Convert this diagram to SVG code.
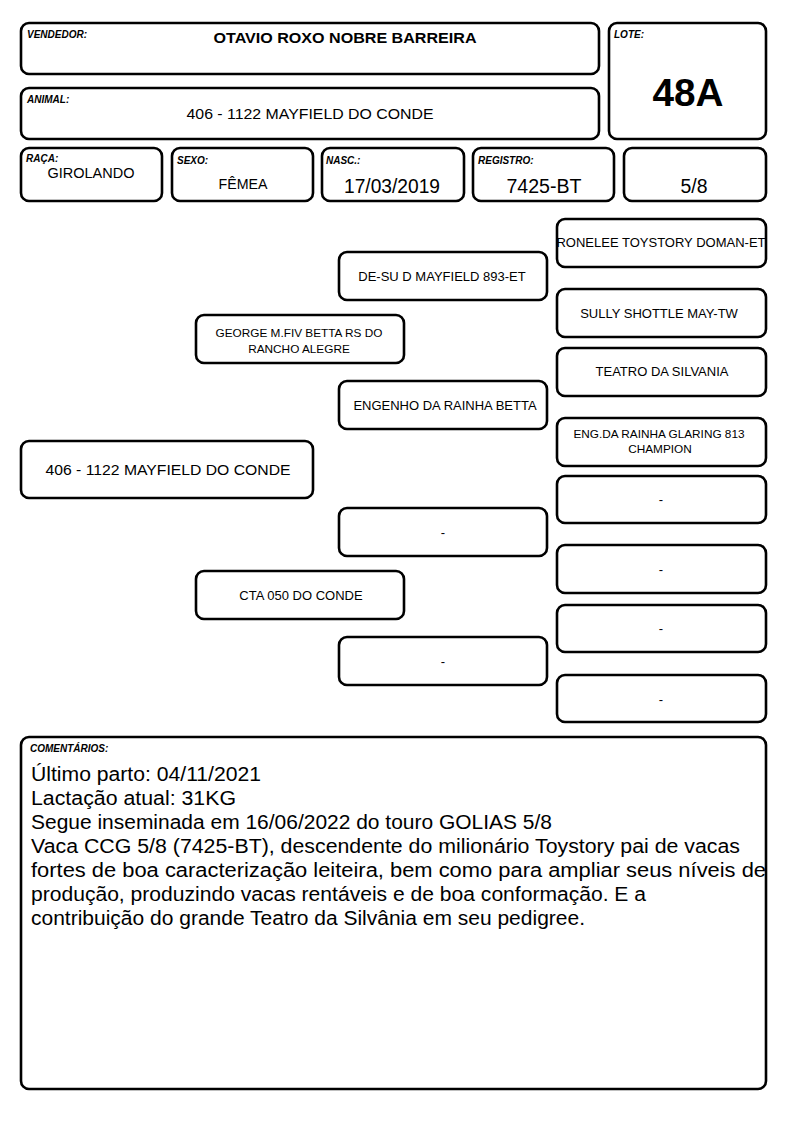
<svg xmlns="http://www.w3.org/2000/svg" width="794" height="1123" viewBox="0 0 794 1123">
<style>
.box{fill:#fff;stroke:#000;stroke-width:2.6}
.lbl{font-family:"Liberation Sans",Arial,sans-serif;font-size:10px;font-weight:bold;font-style:italic;fill:#000}
.t{font-family:"Liberation Sans",Arial,sans-serif;fill:#000;text-anchor:middle}
.p{font-family:"Liberation Sans",Arial,sans-serif;font-size:13px;fill:#000;text-anchor:middle}
.ps{font-family:"Liberation Sans",Arial,sans-serif;font-size:11.8px;fill:#000;text-anchor:middle}
.c{font-family:"Liberation Sans",Arial,sans-serif;font-size:20px;fill:#000}
</style>
<rect width="794" height="1123" fill="#fff"/>
<g id="vendedor">
<rect class="box" x="21" y="23" width="578" height="51" rx="8"/>
<text class="lbl" x="27" y="38">VENDEDOR:</text>
<text class="t" x="345" y="43" font-size="15" font-weight="bold" textLength="263" lengthAdjust="spacingAndGlyphs">OTAVIO ROXO NOBRE BARREIRA</text>
</g>
<g id="animal">
<rect class="box" x="21" y="88" width="578" height="51" rx="8"/>
<text class="lbl" x="27" y="103">ANIMAL:</text>
<text class="t" x="310" y="119" font-size="15.5" textLength="247" lengthAdjust="spacingAndGlyphs">406 - 1122 MAYFIELD DO CONDE</text>
</g>
<g id="lote">
<rect class="box" x="609" y="23" width="157" height="116" rx="8"/>
<text class="lbl" x="614" y="38">LOTE:</text>
<text class="t" x="688" y="106" font-size="39" font-weight="bold" textLength="71" lengthAdjust="spacingAndGlyphs">48A</text>
</g>
<g id="raca">
<rect class="box" x="21" y="148" width="141" height="53" rx="8"/>
<text class="lbl" x="26" y="162">RAÇA:</text>
<text class="t" x="91" y="178" font-size="15" textLength="87" lengthAdjust="spacingAndGlyphs">GIROLANDO</text>
</g>
<g id="sexo">
<rect class="box" x="172" y="148" width="141" height="53" rx="8"/>
<text class="lbl" x="177" y="164">SEXO:</text>
<text class="t" x="243" y="189" font-size="15" textLength="49" lengthAdjust="spacingAndGlyphs">FÊMEA</text>
</g>
<g id="nasc">
<rect class="box" x="322" y="148" width="142" height="53" rx="8"/>
<text class="lbl" x="326" y="164">NASC.:</text>
<text class="t" x="392" y="193" font-size="19.5" textLength="96" lengthAdjust="spacingAndGlyphs">17/03/2019</text>
</g>
<g id="registro">
<rect class="box" x="473" y="148" width="141" height="53" rx="8"/>
<text class="lbl" x="478" y="164">REGISTRO:</text>
<text class="t" x="544" y="193" font-size="19.5" textLength="75" lengthAdjust="spacingAndGlyphs">7425-BT</text>
</g>
<g id="grau">
<rect class="box" x="624" y="148" width="142" height="53" rx="8"/>
<text class="t" x="694" y="193" font-size="19.5" textLength="27" lengthAdjust="spacingAndGlyphs">5/8</text>
</g>
<g id="connectors"></g>
<g id="p-animal">
<rect class="box" x="21" y="441" width="292" height="57" rx="8"/>
<text class="t" x="168" y="475" font-size="15.5" textLength="245" lengthAdjust="spacingAndGlyphs">406 - 1122 MAYFIELD DO CONDE</text>
</g>
<g id="p-pai">
<rect class="box" x="196" y="315" width="208" height="48" rx="8"/>
<text class="ps" x="299" y="337">GEORGE M.FIV BETTA RS DO</text>
<text class="ps" x="299" y="353">RANCHO ALEGRE</text>
</g>
<g id="p-mae">
<rect class="box" x="196" y="571" width="208" height="48" rx="8"/>
<text class="p" x="301" y="600" font-size="12.8">CTA 050 DO CONDE</text>
</g>
<g id="p-avo-pp">
<rect class="box" x="339" y="252" width="208" height="48" rx="8"/>
<text class="p" x="442" y="281">DE-SU D MAYFIELD 893-ET</text>
</g>
<g id="p-avo-pm">
<rect class="box" x="339" y="381" width="208" height="48" rx="8"/>
<text class="p" x="445" y="410">ENGENHO DA RAINHA BETTA</text>
</g>
<g id="p-avo-mp">
<rect class="box" x="339" y="508" width="208" height="48" rx="8"/>
<text class="p" x="443" y="537">-</text>
</g>
<g id="p-avo-mm">
<rect class="box" x="339" y="637" width="208" height="48" rx="8"/>
<text class="p" x="443" y="666">-</text>
</g>
<g id="p-bis-1">
<rect class="box" x="557" y="219" width="209" height="48" rx="8"/>
<text class="p" x="661" y="247">RONELEE TOYSTORY DOMAN-ET</text>
</g>
<g id="p-bis-2">
<rect class="box" x="557" y="289" width="209" height="48" rx="8"/>
<text class="p" x="659" y="318">SULLY SHOTTLE MAY-TW</text>
</g>
<g id="p-bis-3">
<rect class="box" x="557" y="348" width="209" height="48" rx="8"/>
<text class="p" x="662" y="376">TEATRO DA SILVANIA</text>
</g>
<g id="p-bis-4">
<rect class="box" x="557" y="418" width="209" height="48" rx="8"/>
<text class="ps" x="659" y="438">ENG.DA RAINHA GLARING 813</text>
<text class="ps" x="660" y="453">CHAMPION</text>
</g>
<g id="p-bis-5">
<rect class="box" x="557" y="476" width="209" height="47" rx="8"/>
<text class="p" x="661" y="504">-</text>
</g>
<g id="p-bis-6">
<rect class="box" x="557" y="545" width="209" height="48" rx="8"/>
<text class="p" x="661" y="574">-</text>
</g>
<g id="p-bis-7">
<rect class="box" x="557" y="605" width="209" height="47" rx="8"/>
<text class="p" x="661" y="633">-</text>
</g>
<g id="p-bis-8">
<rect class="box" x="557" y="675" width="209" height="47" rx="8"/>
<text class="p" x="661" y="704">-</text>
</g>
<g id="comentarios">
<rect class="box" x="21" y="737" width="745" height="352" rx="8"/>
<text class="lbl" x="30" y="752">COMENTÁRIOS:</text>
<text class="c" x="31" y="781" textLength="230" lengthAdjust="spacingAndGlyphs">Último parto: 04/11/2021</text>
<text class="c" x="31" y="805" textLength="205" lengthAdjust="spacingAndGlyphs">Lactação atual: 31KG</text>
<text class="c" x="31" y="829" textLength="521" lengthAdjust="spacingAndGlyphs">Segue inseminada em 16/06/2022 do touro GOLIAS 5/8</text>
<text class="c" x="31" y="853" textLength="709" lengthAdjust="spacingAndGlyphs">Vaca CCG 5/8 (7425-BT), descendente do milionário Toystory pai de vacas</text>
<text class="c" x="31" y="877" textLength="735" lengthAdjust="spacingAndGlyphs">fortes de boa caracterização leiteira, bem como para ampliar seus níveis de</text>
<text class="c" x="31" y="901" textLength="615" lengthAdjust="spacingAndGlyphs">produção, produzindo vacas rentáveis e de boa conformação. E a</text>
<text class="c" x="31" y="925" textLength="554" lengthAdjust="spacingAndGlyphs">contribuição do grande Teatro da Silvânia em seu pedigree.</text>
</g>
</svg>
